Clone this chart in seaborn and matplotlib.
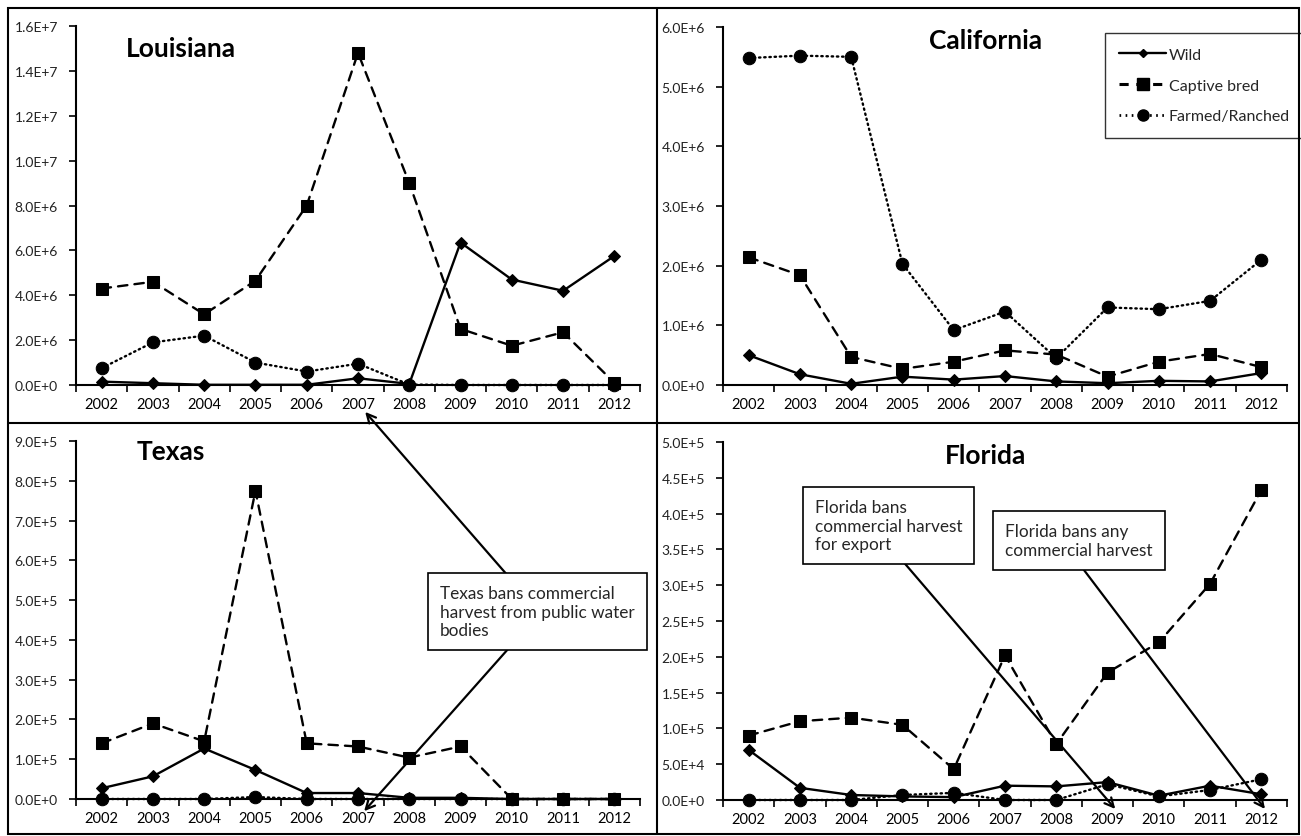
import numpy as np
import matplotlib
matplotlib.use("Agg")
import matplotlib.pyplot as plt
import seaborn as sns
from matplotlib.lines import Line2D
from matplotlib.patches import Rectangle
from matplotlib.ticker import FuncFormatter, FixedLocator

years = [2002, 2003, 2004, 2005, 2006, 2007, 2008, 2009, 2010, 2011, 2012]
series_names = ["Wild", "Captive bred", "Farmed/Ranched"]

# Louisiana
la_wild = [1.5e5, 8e4, 1e4, 1e4, 1e4, 3.0e5, 5e4, 6.35e6, 4.7e6, 4.2e6, 5.75e6]
la_captive = [4.3e6, 4.6e6, 3.15e6, 4.65e6, 8.0e6, 1.48e7, 9.0e6, 2.5e6, 1.75e6, 2.35e6, 1.0e5]
la_farmed = [7.5e5, 1.9e6, 2.2e6, 1.0e6, 6.0e5, 9.5e5, 2e4, 0, 0, 0, 0]

# California
ca_wild = [5.0e5, 1.8e5, 2e4, 1.4e5, 9e4, 1.5e5, 6e4, 3e4, 7e4, 6e4, 2.0e5]
ca_captive = [2.14e6, 1.84e6, 4.7e5, 2.7e5, 3.9e5, 5.8e5, 5.1e5, 1.4e5, 3.9e5, 5.2e5, 3.0e5]
ca_farmed = [5.48e6, 5.52e6, 5.5e6, 2.03e6, 9.2e5, 1.23e6, 4.5e5, 1.3e6, 1.27e6, 1.41e6, 2.1e6]

# Texas
tx_wild = [2.7e4, 5.7e4, 1.27e5, 7.3e4, 1.5e4, 1.5e4, 3e3, 3e3, 0, 0, 0]
tx_captive = [1.4e5, 1.9e5, 1.45e5, 7.75e5, 1.4e5, 1.32e5, 1.04e5, 1.32e5, 0, 0, 0]
tx_farmed = [0, 0, 0, 5e3, 0, 0, 0, 0, 0, 0, 0]

# Florida
fl_wild = [7.0e4, 1.7e4, 7e3, 5e3, 4e3, 2.0e4, 1.9e4, 2.5e4, 6e3, 2.0e4, 8e3]
fl_captive = [9.0e4, 1.1e5, 1.15e5, 1.05e5, 4.3e4, 2.02e5, 7.8e4, 1.78e5, 2.2e5, 3.02e5, 4.33e5]
fl_farmed = [0, 0, 0, 7e3, 1.0e4, 0, 0, 2.2e4, 5e3, 1.4e4, 2.9e4]

la_ticks = [0, 2e6, 4e6, 6e6, 8e6, 1.0e7, 1.2e7, 1.4e7, 1.6e7]
ca_ticks = [0, 1e6, 2e6, 3e6, 4e6, 5e6, 6e6]
tx_ticks = [0, 1e5, 2e5, 3e5, 4e5, 5e5, 6e5, 7e5, 8e5, 9e5]
fl_ticks = [0, 5e4, 1e5, 1.5e5, 2e5, 2.5e5, 3e5, 3.5e5, 4e5, 4.5e5, 5e5]

sns.set_theme(style="white")
plt.rcParams["font.family"] = ["Lato", "DejaVu Sans"]

W, H = 1301, 837
fig = plt.figure(figsize=(W / 100, H / 100), dpi=100)


def px_axes(left, top, right, bottom):
    return fig.add_axes([left / W, 1 - bottom / H, (right - left) / W, (bottom - top) / H])


def sci_fmt(v, pos):
    if v == 0:
        return "0.0E+0"
    e = int(np.floor(np.log10(abs(v)) + 1e-9))
    return f"{v / 10 ** e:.1f}E+{e}"


styles = {
    "Wild": dict(marker="D", markersize=6.5, linestyle="-"),
    "Captive bred": dict(marker="s", markersize=8, linestyle=(0, (4, 3))),
    "Farmed/Ranched": dict(marker="o", markersize=9, linestyle=(0, (0.6, 1.6))),
}


def draw_panel(ax, wild, captive, farmed, ticks, title, tx, ty, ha):
    xs = np.arange(len(years))
    for name, vals in zip(series_names, [wild, captive, farmed]):
        st = styles[name]
        sns.lineplot(x=xs, y=vals, ax=ax, color="black", linewidth=1.7,
                     marker=st["marker"], markersize=st["markersize"],
                     linestyle=st["linestyle"], markeredgecolor="black",
                     markerfacecolor="black", dash_capstyle="round",
                     solid_capstyle="round", clip_on=False)
    ax.set_xlim(-0.5, len(years) - 0.5)
    ax.set_ylim(0, ticks[-1])
    ax.yaxis.set_major_locator(FixedLocator(ticks))
    ax.yaxis.set_major_formatter(FuncFormatter(sci_fmt))
    ax.set_xticks(xs)
    ax.set_xticklabels([str(y) for y in years])
    ax.set_xticks(np.arange(len(years) + 1) - 0.5, minor=True)
    ax.tick_params(axis="x", which="major", length=0, pad=9, labelsize=10.5, colors="black")
    ax.tick_params(axis="x", which="minor", length=5, width=1.2, direction="out", color="black")
    ax.tick_params(axis="y", which="major", length=5, width=1.2, direction="out",
                   pad=8, labelsize=10, color="black", labelcolor="#222222")
    ax.tick_params(left=True, bottom=True, which="both")
    for side in ["top", "right"]:
        ax.spines[side].set_visible(False)
    for side in ["left", "bottom"]:
        ax.spines[side].set_color("black")
        ax.spines[side].set_linewidth(1.5)
    ax.set_xlabel("")
    ax.set_ylabel("")
    ax.grid(False)
    ax.set_facecolor("none")
    ax.text(tx, ty, title, transform=ax.transAxes, ha=ha, va="center",
            fontsize=19, fontweight="bold", color="black")


ax_la = px_axes(76, 27, 640, 386)
ax_ca = px_axes(723, 28, 1287, 386)
ax_tx = px_axes(76, 442, 640, 800)
ax_fl = px_axes(723, 443, 1287, 801)

draw_panel(ax_la, la_wild, la_captive, la_farmed, la_ticks, "Louisiana", 0.089, 0.94, "left")
draw_panel(ax_ca, ca_wild, ca_captive, ca_farmed, ca_ticks, "California", 0.465, 0.965, "center")
draw_panel(ax_tx, tx_wild, tx_captive, tx_farmed, tx_ticks, "Texas", 0.108, 0.973, "left")
draw_panel(ax_fl, fl_wild, fl_captive, fl_farmed, fl_ticks, "Florida", 0.465, 0.964, "center")

# panel frames
fig.add_artist(Rectangle((8 / W, 1 - 835 / H), 1291 / W, 826 / H, transform=fig.transFigure,
                         fill=False, edgecolor="black", linewidth=1.5))
fig.add_artist(Line2D([657 / W, 657 / W], [1 - 835 / H, 1 - 9 / H], transform=fig.transFigure,
                      color="black", linewidth=1.5))
fig.add_artist(Line2D([8 / W, 1299 / W], [1 - 424 / H, 1 - 424 / H], transform=fig.transFigure,
                      color="black", linewidth=1.5))

# legend
handles = [
    Line2D([], [], color="black", lw=1.7, marker="D", markersize=4.5, linestyle="-"),
    Line2D([], [], color="black", lw=2.2, marker="s", markersize=8, linestyle=(0, (3, 2.5))),
    Line2D([], [], color="black", lw=2, marker="o", markersize=8, linestyle=(0, (0.6, 1.6))),
]
leg = ax_ca.legend(handles, series_names, loc="upper left",
                   bbox_to_anchor=(1105 / W, 1 - 34 / H), bbox_transform=fig.transFigure,
                   fontsize=11.5, frameon=True, fancybox=False, edgecolor="black",
                   handlelength=2.9, handletextpad=0.2, labelspacing=1.05, borderpad=0.9,
                   borderaxespad=0)
leg.get_frame().set_linewidth(1.0)
leg.set_zorder(10)

box_style = dict(boxstyle="square,pad=0.7", facecolor="white", edgecolor="black", linewidth=1.2)
arrow_style = dict(arrowstyle="->", lw=1.6, color="black", mutation_scale=16, shrinkA=0, shrinkB=0)

# Texas annotation
i2007 = years.index(2007)
ax_tx.annotate("", xy=(i2007 + 0.14, -0.075), xycoords=ax_la.get_xaxis_transform(),
               xytext=(0.823, 0.52), textcoords=ax_tx.transAxes,
               arrowprops=arrow_style, zorder=5, annotation_clip=False)
ax_tx.annotate("", xy=(i2007 + 0.12, -0.034), xycoords=ax_tx.get_xaxis_transform(),
               xytext=(0.823, 0.52), textcoords=ax_tx.transAxes,
               arrowprops=arrow_style, zorder=5, annotation_clip=False)
ax_tx.text(0.645, 0.598, "Texas bans commercial\nharvest from public water\nbodies",
           transform=ax_tx.transAxes, ha="left", va="top", fontsize=12.4, linespacing=1.2,
           bbox=box_style, zorder=6, clip_on=False)

# Florida annotations
i2009 = years.index(2009)
i2012 = years.index(2012)
ax_fl.annotate("", xy=(i2009 + 0.15, -0.025), xycoords=ax_fl.get_xaxis_transform(),
               xytext=(0.296, 0.709), textcoords=ax_fl.transAxes,
               arrowprops=arrow_style, zorder=5, annotation_clip=False)
ax_fl.annotate("", xy=(i2012 + 0.07, -0.025), xycoords=ax_fl.get_xaxis_transform(),
               xytext=(0.608, 0.709), textcoords=ax_fl.transAxes,
               arrowprops=arrow_style, zorder=5, annotation_clip=False)
ax_fl.text(0.163, 0.841, "Florida bans\ncommercial harvest\nfor export",
           transform=ax_fl.transAxes, ha="left", va="top", fontsize=12.4, linespacing=1.2,
           bbox=box_style, zorder=6, clip_on=False)
ax_fl.text(0.5, 0.774, "Florida bans any\ncommercial harvest",
           transform=ax_fl.transAxes, ha="left", va="top", fontsize=12.4, linespacing=1.2,
           bbox=box_style, zorder=6, clip_on=False)

fig.savefig("out.png", dpi=100, facecolor="white")
